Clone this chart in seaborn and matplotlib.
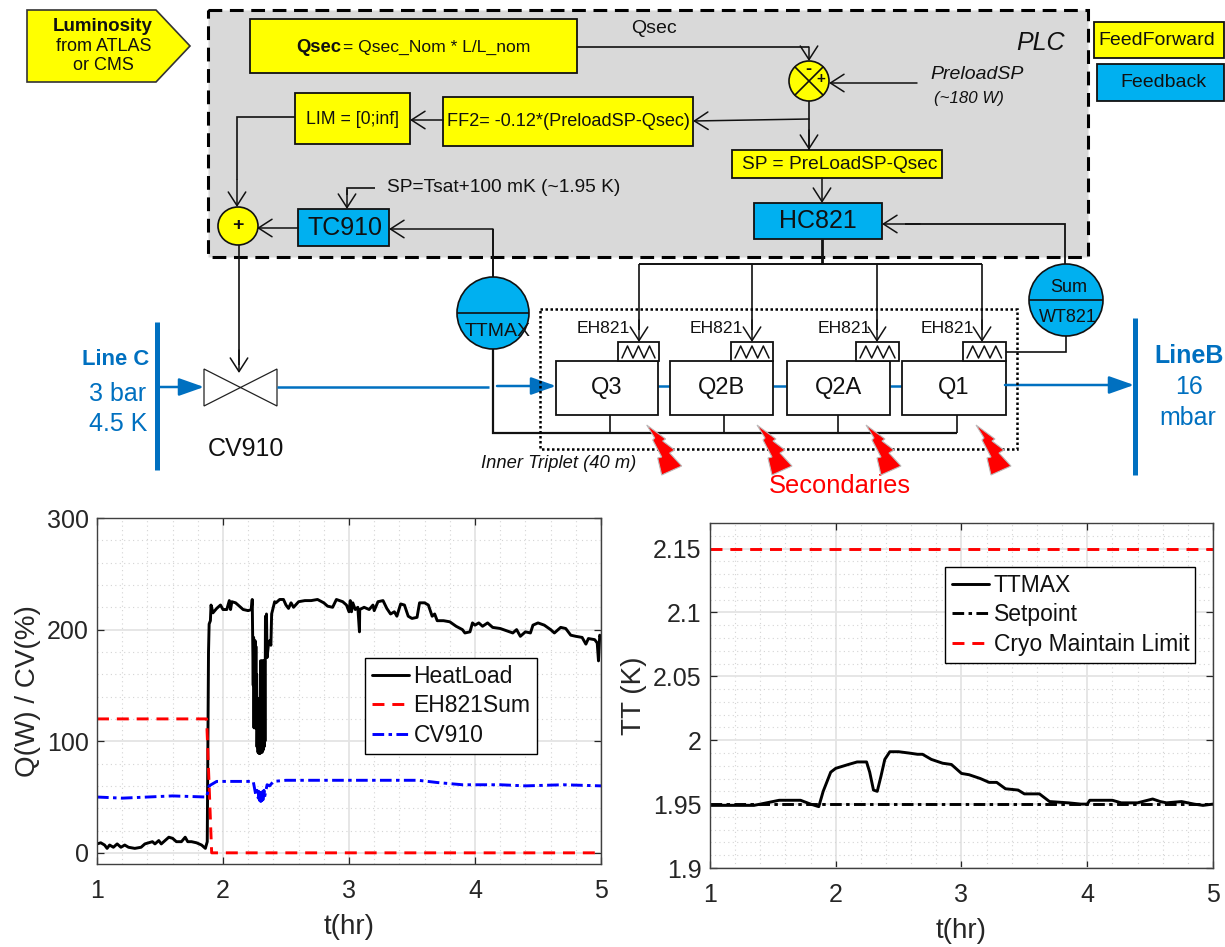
#!/usr/bin/env python3

import matplotlib
matplotlib.use("Agg")
import matplotlib.pyplot as plt
from matplotlib.patches import Ellipse, Polygon, Rectangle
from matplotlib.ticker import MultipleLocator
import seaborn as sns

WIDTH, HEIGHT = 1225, 947
YELLOW = "#ffff00"
CYAN = "#00b0f0"
BLUE = "#0070c0"

# left plot
HEAT_T = [1.0, 1.03, 1.06, 1.08, 1.1, 1.13, 1.16, 1.19, 1.22, 1.25, 1.3, 1.35, 1.38, 1.41, 1.44, 1.46, 1.49,
          1.51, 1.53, 1.57, 1.6, 1.63, 1.67, 1.7, 1.72, 1.75, 1.79, 1.83, 1.86, 1.875, 1.88, 1.885, 1.89, 1.9,
          1.905, 1.92, 1.95, 1.98, 2.0, 2.03, 2.05, 2.06, 2.07, 2.1, 2.13, 2.16, 2.2, 2.225, 2.232,
          2.24, 2.243, 2.246, 2.249, 2.252, 2.255, 2.258, 2.261, 2.264,
          2.267, 2.27, 2.274, 2.278, 2.282, 2.286, 2.29, 2.294, 2.298, 2.302, 2.306, 2.31, 2.314, 2.318, 2.322,
          2.326, 2.33, 2.333, 2.337, 2.341, 2.345, 2.35, 2.36, 2.37, 2.38, 2.386, 2.41,
          2.42, 2.45, 2.48, 2.5, 2.52, 2.54, 2.56, 2.6, 2.65, 2.7, 2.75, 2.8,
          2.83, 2.87, 2.9, 2.95, 2.98, 3.0, 3.01, 3.02, 3.03, 3.05, 3.07, 3.083, 3.085, 3.12, 3.16, 3.19, 3.2,
          3.23, 3.27, 3.3, 3.33, 3.36, 3.38, 3.41, 3.44, 3.47, 3.5, 3.54, 3.56, 3.6, 3.63, 3.66, 3.68, 3.7, 3.75,
          3.8, 3.85, 3.9, 3.92, 3.96, 3.98, 4.0, 4.03, 4.06, 4.1, 4.14, 4.2, 4.25, 4.3, 4.33, 4.36, 4.4, 4.44,
          4.46, 4.5, 4.55, 4.6, 4.63, 4.68, 4.72, 4.76, 4.8, 4.85, 4.88, 4.9, 4.95, 4.97, 4.98, 4.99, 5.0]
HEAT_Q = [8, 9, 7, 4, 7, 5, 8, 5, 7, 5, 4, 5, 8, 9, 10, 8, 11,
          8, 10, 14, 13, 10, 10, 14, 10, 10, 9, 7, 4, 10, 100, 180, 205, 208,
          222, 215, 219, 222, 218, 218, 226, 218, 225, 224, 221, 218, 217, 218, 227,
          150, 193, 112, 190, 112, 190, 112, 185, 112,
          160, 95, 138, 90, 138, 89, 138, 89, 172, 92, 172, 90, 172, 92, 172,
          95, 172, 100, 212, 175, 214, 175, 186, 190, 186, 214, 225,
          224, 227, 227, 222, 219, 224, 220, 225, 226, 226, 227, 224,
          221, 220, 227, 225, 222, 216, 226, 216, 224, 218, 220, 198, 218, 220, 218, 222, 217,
          225, 226, 219, 214, 216, 212, 223, 222, 212, 210, 211, 224, 224, 222, 212, 214, 208, 208,
          207, 203, 200, 197, 198, 206, 204, 206, 203, 206, 202, 201, 199, 197, 200, 194, 198, 197,
          204, 206, 204, 200, 197, 202, 201, 195, 194, 193, 187, 192, 191, 188, 172, 195, 193]
EH_T = [1.0, 1.87, 1.89, 1.91, 5.0]
EH_Q = [120, 120, 60, 0, 0]
CV_T = [1.0, 1.2, 1.4, 1.6, 1.87, 1.89, 1.95, 2.1, 2.24, 2.25, 2.26, 2.27, 2.28, 2.285, 2.29, 2.295, 2.3, 2.305, 2.31,
        2.315, 2.32, 2.325, 2.33, 2.35, 2.37, 2.4, 2.5, 2.7, 3.0, 3.3, 3.55, 3.7, 3.9, 4.2, 4.4, 4.7, 5.0]
CV_Q = [50, 49, 50, 51, 50, 60, 64, 64, 64, 58, 52, 56, 49, 55, 47, 54, 46, 56, 47,
        55, 48, 56, 50, 61, 60, 64, 65, 65, 65, 65, 65, 63, 61, 61, 60, 61, 60]
LEFT_YTICKS = [0, 100, 200, 300]

# right plot
TT_T = [1.0, 1.35, 1.45, 1.55, 1.72, 1.8, 1.865, 1.9, 1.96, 2.0, 2.1, 2.17, 2.245, 2.27, 2.3, 2.33, 2.36, 2.39, 2.43,
        2.5, 2.58, 2.65, 2.69, 2.76, 2.85, 2.92, 3.0, 3.06, 3.15, 3.22, 3.28, 3.35, 3.45, 3.5, 3.62, 3.7, 3.85, 3.95,
        4.0, 4.02, 4.2, 4.27, 4.4, 4.48, 4.52, 4.58, 4.63, 4.75, 4.85, 4.92, 5.0]
TT_K = [1.949, 1.949, 1.951, 1.953, 1.953, 1.95, 1.948, 1.96, 1.975, 1.978, 1.981, 1.983, 1.983, 1.975, 1.961, 1.96,
        1.972, 1.985, 1.991, 1.991, 1.99, 1.989, 1.989, 1.985, 1.982, 1.981, 1.974, 1.973, 1.97, 1.967, 1.967, 1.962,
        1.961, 1.958, 1.958, 1.952, 1.951, 1.95, 1.95, 1.953, 1.953, 1.951, 1.951, 1.953, 1.954, 1.952, 1.951, 1.952,
        1.95, 1.949, 1.95]
LIMIT_T = [1.0, 5.0]
SETPOINT_K = [1.95, 1.95]
CRYO_LIMIT_K = [2.15, 2.15]
RIGHT_YTICKS = [1.9, 1.95, 2.0, 2.05, 2.1, 2.15]
RIGHT_YLABELS = ["1.9", "1.95", "2", "2.05", "2.1", "2.15"]
XTICKS = [1, 2, 3, 4, 5]

sns.set_theme(style="white")
plt.rcParams["font.family"] = ["Liberation Sans", "DejaVu Sans"]

fig = plt.figure(figsize=(WIDTH / 100, HEIGHT / 100), dpi=100)
sketch = fig.add_axes([0, 0, 1, 1])
sketch.set_xlim(0, WIDTH)
sketch.set_ylim(HEIGHT, 0)
sketch.axis("off")


def box(x0, y0, x1, y1, color="white", lw=1.3, **kw):
    sketch.add_patch(Rectangle((x0, y0), x1 - x0, y1 - y0, facecolor=color, edgecolor="#111111", linewidth=lw, **kw))


def label(x, y, s, size=13, color="#111111", ha="center", **kw):
    sketch.text(x, y, s, fontsize=size, color=color, ha=ha, va="center", **kw)


def wire(xs, ys, lw=1.2, color="#111111", zorder=2):
    sketch.plot(xs, ys, color=color, lw=lw, solid_capstyle="butt", solid_joinstyle="miter", zorder=zorder)


def arrow(x0, y0, x1, y1):
    sketch.annotate("", xy=(x1, y1), xytext=(x0, y0),
                    arrowprops=dict(arrowstyle="->,head_length=0.7,head_width=0.45", lw=1.1, color="#111111",
                                    shrinkA=0, shrinkB=0, mutation_scale=14))


def blue_arrow(x0, y0, x1, y1):
    sketch.annotate("", xy=(x1, y1), xytext=(x0, y0),
                    arrowprops=dict(arrowstyle="-|>,head_length=0.85,head_width=0.3", lw=1.8, color=BLUE,
                                    shrinkA=0, shrinkB=0, mutation_scale=18))


def circle(x, y, rx, ry, color):
    sketch.add_patch(Ellipse((x, y), 2 * rx, 2 * ry, facecolor=color, edgecolor="#111111", linewidth=1.2, zorder=3))


# PLC region
sketch.add_patch(Rectangle((208, 10), 880, 247, facecolor="#d9d9d9", edgecolor="black", linewidth=2.2,
                           linestyle=(0, (4.5, 2.5))))
label(1040, 43, "PLC", size=18, style="italic", ha="center")

# inputs
sketch.add_patch(Polygon([(27, 10), (156, 10), (190, 46), (156, 82), (27, 82)], facecolor=YELLOW,
                         edgecolor="#333333", linewidth=1.2))
label(103, 26, "Luminosity", size=13.5, weight="bold")
label(104, 46, "from ATLAS", size=13)
label(103, 65, "or CMS", size=13)

box(250, 19, 577, 73, YELLOW)
label(341, 47, "Qsec", size=13.3, weight="bold", ha="right")
label(343, 47, "= Qsec_Nom * L/L_nom", size=12.6, ha="left")
box(295, 93, 410, 144, YELLOW)
label(352, 119, "LIM = [0;inf]", size=12.7)
box(443, 97, 693, 146, YELLOW)
label(568, 121, "FF2= -0.12*(PreloadSP-Qsec)", size=13.1)
box(732, 150, 942, 178, YELLOW)
label(840, 164, "SP = PreLoadSP-Qsec", size=13.8)
box(754, 203, 882, 239, CYAN)
label(818, 221, "HC821", size=18)
box(298, 209, 389, 246, CYAN)
label(345, 228, "TC910", size=18)
box(1094, 22, 1224, 58, YELLOW)
label(1157, 40, "FeedForward", size=14)
box(1097, 64, 1224, 101, CYAN)
label(1163, 82, "Feedback", size=14)

label(677, 28, "Qsec", size=14, ha="right")
label(930, 74, "PreloadSP", size=14, ha="left", style="italic")
label(934, 98, "(~180 W)", size=12.2, ha="left", style="italic")
label(387, 187, "SP=Tsat+100 mK (~1.95 K)", size=13.8, ha="left")

# summing junctions
wire([577, 809], [47, 47])
arrow(809, 47, 809, 61)
arrow(917, 83, 829, 83)
wire([809, 809], [101, 150])
arrow(809, 130, 809, 150)
arrow(809, 119, 693, 121)
arrow(443, 120, 410, 120)
wire([295, 237, 237], [117, 117, 180])
arrow(237, 180, 237, 207)
arrow(298, 228, 257, 228)
arrow(822, 178, 822, 203)
wire([375, 347, 347], [188, 188, 195])
arrow(347, 190, 347, 209)
circle(809, 81, 20, 20, YELLOW)
sketch.plot([795, 823], [67, 95], color="#111111", lw=1.2, zorder=4)
sketch.plot([795, 823], [95, 67], color="#111111", lw=1.2, zorder=4)
label(808, 69, "-", size=13, weight="bold", zorder=5)
label(821, 79, "+", size=11, weight="bold", zorder=5)
circle(238, 226, 20, 19, YELLOW)
label(238, 225, "+", size=14, weight="bold", zorder=5)

# feedback wiring
wire([239, 239], [245, 365])
arrow(239, 350, 239, 373)
wire([493, 493], [229, 277], lw=1.4)
arrow(493, 229, 389, 229)
wire([1065, 1065, 905], [264, 224, 224], lw=1.3)
arrow(920, 224, 882, 224)
wire([822, 822], [239, 264], lw=2)
wire([639, 982], [264, 264], lw=1.4)
for drop_x in [639, 752, 877, 982]:
    wire([drop_x, drop_x], [264, 330])
    arrow(drop_x, 320, drop_x, 342)
wire([1066, 1066, 1006], [336, 352, 352])
wire([493, 493, 957], [349, 433, 433], lw=1.6)
for stub_x in [610, 724, 837.5, 957]:
    wire([stub_x, stub_x], [415, 433])

# process line
wire([157, 157], [322, 470], lw=3.6, color=BLUE)
wire([1135, 1135], [318, 475], lw=3.6, color=BLUE)
blue_arrow(157, 387, 204, 387)
wire([277, 489], [387, 387], lw=1.8, color=BLUE)
blue_arrow(497, 386, 556, 386)
wire([658, 670], [386, 386], lw=1.8, color=BLUE)
wire([773, 786], [386, 386], lw=1.8, color=BLUE)
wire([890, 902], [386, 386], lw=1.8, color=BLUE)
blue_arrow(1005, 385, 1134, 385)
sketch.add_patch(Polygon([(204, 369), (277, 406), (277, 369), (204, 406)], facecolor="white", edgecolor="#222222",
                         linewidth=0.9))
label(116, 359, "Line C", size=15.8, color=BLUE, weight="bold")
label(118, 394, "3 bar", size=18, color=BLUE)
label(118, 424, "4.5 K", size=18, color=BLUE)
label(1189, 356, "LineB", size=18, color=BLUE, weight="bold")
label(1189, 387, "16", size=18, color=BLUE)
label(1188, 418, "mbar", size=18, color=BLUE)
label(246, 449, "CV910", size=18)

# magnets
sketch.add_patch(Rectangle((539.5, 309), 477.5, 140, fill=False, edgecolor="black", linewidth=1.8,
                           linestyle=(0, (1, 1)), zorder=4))
for x0, x1, name in [(556, 658, "Q3"), (670, 773, "Q2B"), (786.5, 890, "Q2A"), (902, 1005.5, "Q1")]:
    box(x0, 361, x1, 415, "white", zorder=2)
    sketch.text((x0 + x1) / 2, 388, name, fontsize=17, color="#111111", ha="center", va="center", zorder=3)
for x0, x1, text_x in [(618, 659, 603), (731, 773, 716), (856, 899, 844), (963, 1005.5, 947)]:
    box(x0, 342, x1, 361, "white", zorder=2)
    step = (x1 - x0 - 8) / 6
    zig_x = [x0 + 4 + i * step for i in range(7)]
    zig_y = [358, 346, 358, 346, 358, 346, 358]
    sketch.plot(zig_x, zig_y, color="#111111", lw=1.1, zorder=3)
    label(text_x, 328, "EH821", size=12.6)

circle(493, 313, 36, 36, CYAN)
wire([457, 529], [313, 313], zorder=4)
label(498, 331, "TTMAX", size=14, zorder=5)
circle(1066, 300, 37, 36, CYAN)
wire([1029, 1103], [300, 300], zorder=4)
label(1069, 287, "Sum", size=13, zorder=5)
label(1068, 317, "WT821", size=13, zorder=5)

label(559, 463, "Inner Triplet (40 m)", size=13.2, style="italic")
label(840, 486, "Secondaries", size=18.4, color="red")
bolt = [(0, 0), (19, 14), (16, 16), (28, 25), (23, 28), (35, 41), (15, 50), (11, 33), (15, 32), (6, 15), (8, 13)]
for bolt_x in [646.7, 757, 866, 976]:
    sketch.add_patch(Polygon([(bolt_x + dx, 425 + dy) for dx, dy in bolt], facecolor="red", edgecolor="#bbbbbb",
                             linewidth=0.8, zorder=5))


def style_plot(ax, xlabel, ylabel):
    ax.set_xlim(1, 5)
    ax.set_xticks(XTICKS)
    ax.xaxis.set_minor_locator(MultipleLocator(0.2))
    ax.grid(True, which="major", color="#e4e4e4", lw=1.3)
    ax.grid(True, which="minor", color="#d4d4d4", lw=0.8, linestyle=(0, (1, 3)))
    ax.set_axisbelow(True)
    ax.tick_params(which="major", direction="in", top=True, right=True, bottom=True, left=True, length=5, width=0.9,
                   labelsize=18, colors="#262626", pad=6)
    ax.tick_params(axis="x", which="major", pad=11)
    ax.tick_params(which="minor", length=0)
    ax.set_xlabel(xlabel, fontsize=20, color="#262626", labelpad=8)
    ax.set_ylabel(ylabel, fontsize=20, color="#262626", labelpad=4)
    for spine in ax.spines.values():
        spine.set_edgecolor("#404040")
        spine.set_linewidth(1)


def place_legend(ax, x0, y0, x1, y1):
    leg = ax.legend(loc="lower left", bbox_to_anchor=(x0 / WIDTH, 1 - y1 / HEIGHT, (x1 - x0) / WIDTH, (y1 - y0) / HEIGHT),
                    bbox_transform=fig.transFigure, fontsize=16.5, frameon=True, fancybox=False, framealpha=1,
                    edgecolor="black", borderpad=0.32, labelspacing=0.28, handlelength=1.6, handletextpad=0.2,
                    borderaxespad=0, mode="expand")
    leg.get_frame().set_linewidth(1)
    for text in leg.get_texts():
        text.set_color("#111111")


left = fig.add_axes([97 / WIDTH, 1 - 864 / HEIGHT, 504 / WIDTH, 346 / HEIGHT])
sns.lineplot(x=HEAT_T, y=HEAT_Q, ax=left, color="black", lw=2.1, sort=False, estimator=None, label="HeatLoad")
sns.lineplot(x=EH_T, y=EH_Q, ax=left, color="red", lw=2.1, sort=False, estimator=None, linestyle=(0, (4.1, 2.7)),
             label="EH821Sum")
sns.lineplot(x=CV_T, y=CV_Q, ax=left, color="blue", lw=2.1, sort=False, estimator=None, linestyle=(0, (4, 1.5, 1.2, 1.5)),
             label="CV910")
left.set_ylim(-10, 300)
left.set_yticks(LEFT_YTICKS)
left.yaxis.set_minor_locator(MultipleLocator(20))
style_plot(left, "t(hr)", "Q(W) / CV(%)")
place_legend(left, 365, 659, 537, 754)

right = fig.add_axes([710 / WIDTH, 1 - 868 / HEIGHT, 503 / WIDTH, 345 / HEIGHT])
sns.lineplot(x=TT_T, y=TT_K, ax=right, color="black", lw=2.1, sort=False, estimator=None, label="TTMAX")
sns.lineplot(x=LIMIT_T, y=SETPOINT_K, ax=right, color="black", lw=2.1, sort=False, estimator=None,
             linestyle=(0, (4, 1.5, 1.2, 1.5)), label="Setpoint")
sns.lineplot(x=LIMIT_T, y=CRYO_LIMIT_K, ax=right, color="red", lw=2.1, sort=False, estimator=None,
             linestyle=(0, (4.1, 2.7)), label="Cryo Maintain Limit")
right.set_ylim(1.9, 2.17)
right.set_yticks(RIGHT_YTICKS)
right.set_yticklabels(RIGHT_YLABELS)
right.yaxis.set_minor_locator(MultipleLocator(0.01))
style_plot(right, "t(hr)", "TT (K)")
place_legend(right, 945, 568, 1195, 663)

plt.savefig("out.png", dpi=100)
